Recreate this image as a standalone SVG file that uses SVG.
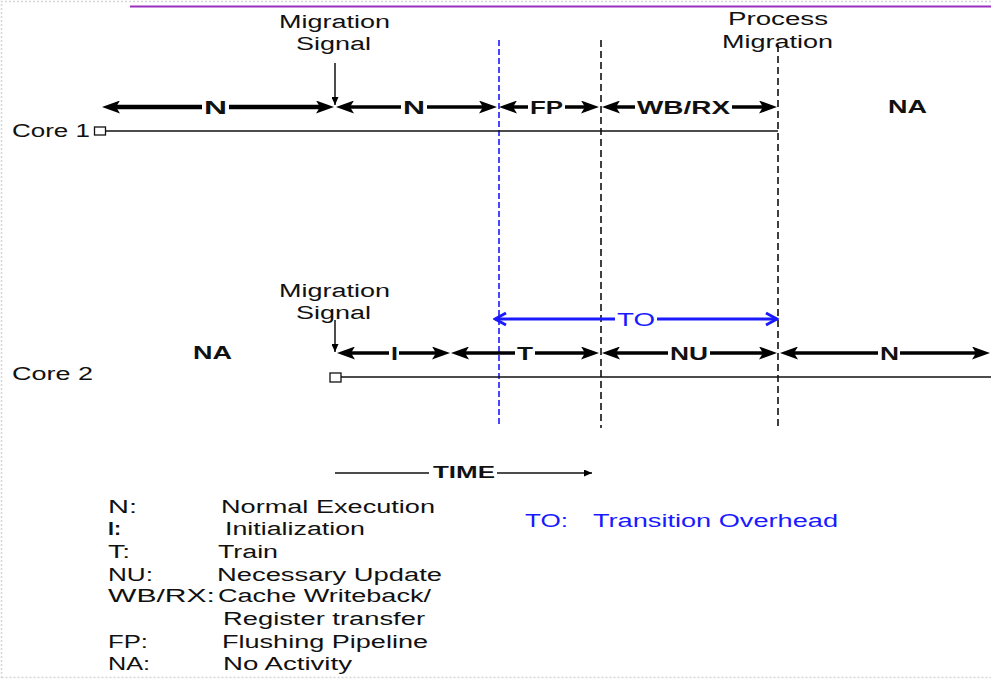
<svg xmlns="http://www.w3.org/2000/svg" width="991" height="679" viewBox="0 0 991 679">
<style>
text{font-family:"Liberation Sans",Arial,sans-serif;font-size:18px;fill:#111}
.b{font-weight:bold}
.blue{fill:#1a1aff}
.ar{stroke:#000;stroke-width:3.5;fill:none}
.ar1{stroke:#000;stroke-width:4.5;fill:none}
.arb{stroke:#1a1aff;stroke-width:3;fill:none}
.thin{stroke:#111;stroke-width:1.5;fill:none}
.dash{stroke:#111;stroke-width:1.6;stroke-dasharray:7,4;fill:none}
.dashb{stroke:#1a1aff;stroke-width:1.6;stroke-dasharray:6,3;fill:none}
</style>
<defs>
<marker id="ah" viewBox="0 0 18 13" refX="6" refY="6.5" markerWidth="18" markerHeight="13" markerUnits="userSpaceOnUse" orient="auto-start-reverse"><path d="M0,0 L18,6.5 L0,13 L4,6.5 z" fill="#000"/></marker>
<marker id="ahs" viewBox="0 0 8 7" refX="8" refY="3.5" markerWidth="8" markerHeight="7" markerUnits="userSpaceOnUse" orient="auto"><path d="M0,0 L8,3.5 L0,7 z" fill="#000"/></marker>
<marker id="ahb" viewBox="0 0 16 16" refX="14" refY="8" markerWidth="16" markerHeight="16" markerUnits="userSpaceOnUse" orient="auto-start-reverse"><path d="M3,2 L14,8 L3,14" fill="none" stroke="#1a1aff" stroke-width="3"/></marker>
</defs>

<g id="frame">
<path d="M1.5,678 L1.5,1.5 L991,1.5 M1.5,677.5 L991,677.5" stroke="#d6d6d6" stroke-width="1.5" stroke-dasharray="2,2" fill="none"/>
<line x1="130" y1="6.5" x2="991" y2="6.5" stroke="#9b30c0" stroke-width="2"/>
</g>

<g id="guides">
<line class="dashb" x1="499" y1="40" x2="499" y2="425"/>
<line class="dash" x1="601" y1="40" x2="601" y2="428"/>
<line class="dash" x1="778" y1="45" x2="778" y2="428"/>
</g>

<g id="core1">
<text x="12" y="137" textLength="78" lengthAdjust="spacingAndGlyphs">Core 1</text>
<rect x="94.5" y="127" width="11" height="8" fill="#fff" stroke="#111" stroke-width="1.3"/>
<line x1="105.5" y1="131" x2="778" y2="131" stroke="#111" stroke-width="1.5"/>
<text class="b" x="888" y="113" textLength="39" lengthAdjust="spacingAndGlyphs">NA</text>
</g>

<g id="core2">
<text x="12" y="380" textLength="81" lengthAdjust="spacingAndGlyphs">Core 2</text>
<rect x="330" y="373" width="11" height="9" fill="#fff" stroke="#111" stroke-width="1.3"/>
<line x1="341" y1="377" x2="991" y2="377" stroke="#111" stroke-width="1.5"/>
<text class="b" x="193" y="359" textLength="39" lengthAdjust="spacingAndGlyphs">NA</text>
</g>

<g id="signal1">
<text x="279" y="28" textLength="111" lengthAdjust="spacingAndGlyphs">Migration</text>
<text x="296" y="50" textLength="75" lengthAdjust="spacingAndGlyphs">Signal</text>
</g>
<g id="process-migration">
<text x="728" y="25" textLength="100" lengthAdjust="spacingAndGlyphs">Process</text>
<text x="722" y="48" textLength="111" lengthAdjust="spacingAndGlyphs">Migration</text>
</g>
<g id="signal2">
<text x="279" y="297" textLength="111" lengthAdjust="spacingAndGlyphs">Migration</text>
<text x="296" y="319" textLength="75" lengthAdjust="spacingAndGlyphs">Signal</text>
</g>

<g id="connectors">
<line class="thin" x1="335" y1="63" x2="335" y2="105" marker-end="url(#ahs)"/>
<line class="thin" x1="335" y1="320" x2="335" y2="352" marker-end="url(#ahs)"/>
<!-- Core 1 -->
<line class="ar1" x1="114" y1="107" x2="202" y2="107" marker-start="url(#ah)"/>
<line class="ar1" x1="229" y1="107" x2="322" y2="107" marker-end="url(#ah)"/>
<line class="ar" x1="348" y1="107" x2="401" y2="107" marker-start="url(#ah)"/>
<line class="ar" x1="427" y1="107" x2="485" y2="107" marker-end="url(#ah)"/>
<line class="ar" x1="511" y1="107" x2="528" y2="107" marker-start="url(#ah)"/>
<line class="ar" x1="565" y1="107" x2="587" y2="107" marker-end="url(#ah)"/>
<line class="ar" x1="614" y1="107" x2="635" y2="107" marker-start="url(#ah)"/>
<line class="ar" x1="732" y1="107" x2="765" y2="107" marker-end="url(#ah)"/>
<!-- Core 2 -->
<line class="ar" x1="349" y1="353" x2="389" y2="353" marker-start="url(#ah)"/>
<line class="ar" x1="399" y1="353" x2="438" y2="353" marker-end="url(#ah)"/>
<line class="ar" x1="463" y1="353" x2="515" y2="353" marker-start="url(#ah)"/>
<line class="ar" x1="535" y1="353" x2="587" y2="353" marker-end="url(#ah)"/>
<line class="ar" x1="614" y1="353" x2="668" y2="353" marker-start="url(#ah)"/>
<line class="ar" x1="710" y1="353" x2="765" y2="353" marker-end="url(#ah)"/>
<line class="ar" x1="792" y1="353" x2="878" y2="353" marker-start="url(#ah)"/>
<line class="ar" x1="900" y1="353" x2="978" y2="353" marker-end="url(#ah)"/>
<!-- TO -->
<line class="arb" x1="495" y1="319" x2="615" y2="319" marker-start="url(#ahb)"/>
<line class="arb" x1="657" y1="319" x2="777" y2="319" marker-end="url(#ahb)"/>
<!-- TIME -->
<line class="thin" x1="335" y1="473" x2="429" y2="473"/>
<line class="thin" x1="497" y1="473" x2="592" y2="473" marker-end="url(#ahs)"/>
</g>

<g id="arrow-labels">
<text class="b" x="204" y="113.5" textLength="23" lengthAdjust="spacingAndGlyphs">N</text>
<text class="b" x="403" y="113.5" textLength="22" lengthAdjust="spacingAndGlyphs">N</text>
<text class="b" x="530" y="113.5" textLength="33" lengthAdjust="spacingAndGlyphs">FP</text>
<text class="b" x="637" y="113.5" textLength="93" lengthAdjust="spacingAndGlyphs">WB/RX</text>
<text class="b" x="391" y="359.5" textLength="7" lengthAdjust="spacingAndGlyphs">I</text>
<text class="b" x="517" y="359.5" textLength="16" lengthAdjust="spacingAndGlyphs">T</text>
<text class="b" x="670" y="359.5" textLength="38" lengthAdjust="spacingAndGlyphs">NU</text>
<text class="b" x="880" y="359.5" textLength="19" lengthAdjust="spacingAndGlyphs">N</text>
<text class="blue" x="617" y="326" textLength="38" lengthAdjust="spacingAndGlyphs">TO</text>
<text class="b" x="433" y="478" font-size="16" style="font-size:16px" textLength="62" lengthAdjust="spacingAndGlyphs">TIME</text>
</g>

<g id="legend">
<text x="108" y="513" textLength="29" lengthAdjust="spacingAndGlyphs">N:</text>
<text x="221" y="513" textLength="214" lengthAdjust="spacingAndGlyphs">Normal Execution</text>
<text class="b" x="108" y="535" textLength="13" lengthAdjust="spacingAndGlyphs">I:</text>
<text x="225" y="535" textLength="140" lengthAdjust="spacingAndGlyphs">Initialization</text>
<text x="108" y="558" textLength="22" lengthAdjust="spacingAndGlyphs">T:</text>
<text x="218" y="558" textLength="60" lengthAdjust="spacingAndGlyphs">Train</text>
<text x="108" y="581" textLength="45" lengthAdjust="spacingAndGlyphs">NU:</text>
<text x="217" y="581" textLength="225" lengthAdjust="spacingAndGlyphs">Necessary Update</text>
<text x="108" y="602" textLength="107" lengthAdjust="spacingAndGlyphs">WB/RX:</text>
<text x="218" y="602" textLength="213" lengthAdjust="spacingAndGlyphs">Cache Writeback/</text>
<text x="223" y="625" textLength="202" lengthAdjust="spacingAndGlyphs">Register transfer</text>
<text x="108" y="648" textLength="40" lengthAdjust="spacingAndGlyphs">FP:</text>
<text x="222" y="648" textLength="206" lengthAdjust="spacingAndGlyphs">Flushing Pipeline</text>
<text x="108" y="670" textLength="42" lengthAdjust="spacingAndGlyphs">NA:</text>
<text x="223" y="670" textLength="129" lengthAdjust="spacingAndGlyphs">No Activity</text>
<text class="blue" x="525" y="527" textLength="43" lengthAdjust="spacingAndGlyphs">TO:</text>
<text class="blue" x="593" y="527" textLength="245" lengthAdjust="spacingAndGlyphs">Transition Overhead</text>
</g>
</svg>
